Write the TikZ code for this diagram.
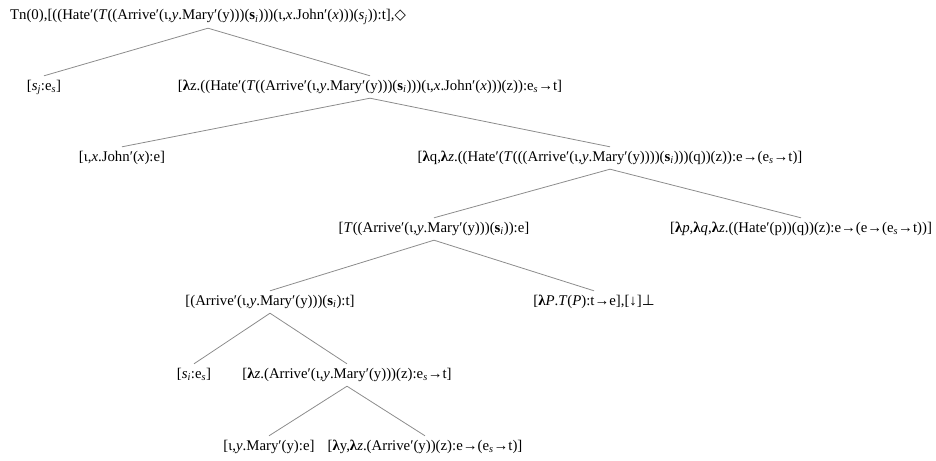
\documentclass[tikz,border=0pt]{standalone}
\usepackage{fontspec}
\setmainfont{Liberation Serif}
\newfontfamily\symbfont{DejaVu Sans}
\newcommand{\bl}{\textbf{λ}}
\newcommand{\es}{e\textsubscript{\textit{s}}}
\newcommand{\bsi}{\textbf{s}\textsubscript{\textit{i}}}
\newcommand{\ar}{→}
\newcommand{\dia}{{\symbfont ◇}}
\newcommand{\falsum}{{\symbfont ⊥}}
\tikzset{
  dnode/.style={inner xsep=1pt, inner ysep=5pt, text height=9pt, text depth=3pt, font=\fontsize{14.8}{16}\selectfont},
  edge/.style={draw=black!45, line width=0.8pt}
}
\begin{document}
\begin{tikzpicture}[x=1pt, y=-1pt]
 \useasboundingbox (0,0) rectangle (936,460);

 % level 0
 \node[dnode] (root) at (208,17) {Tn(0),[((Hate′(\textit{T}((Arrive′(ι,\textit{y}.Mary′(y)))(\bsi)))(ι,\textit{x}.John′(\textit{x})))(\textit{s}\textsubscript{\textit{j}})):t],\dia};

 % level 1
 \node[dnode] (sj) at (44,87) {[\textit{s}\textsubscript{\textit{j}}:\es]};
 \node[dnode] (lz1) at (370,87) {[\bl z.((Hate′(\textit{T}((Arrive′(ι,\textit{y}.Mary′(y)))(\bsi)))(ι,\textit{x}.John′(\textit{x})))(z)):\es\ar t]};

 % level 2
 \node[dnode] (john) at (122,158) {[ι,\textit{x}.John′(\textit{x}):e]};
 \node[dnode] (lq) at (610,158) {[\bl q,\bl\textit{z}.((Hate′(\textit{T}(((Arrive′(ι,\textit{y}.Mary′(y))))(\bsi)))(q))(z)):e\ar(\es\ar t)]};

 % level 3
 \node[dnode] (tarr) at (434,229) {[\textit{T}((Arrive′(ι,\textit{y}.Mary′(y)))(\bsi)):e]};
 \node[dnode] (lp) at (801,229) {[\bl\textit{p},\bl\textit{q},\bl\textit{z}.((Hate′(p))(q))(z):e\ar(e\ar(\es\ar t))]};

 % level 4
 \node[dnode] (arr) at (270,302) {[(Arrive′(ι,\textit{y}.Mary′(y)))(\bsi):t]};
 \node[dnode] (lP) at (594,302) {[\bl\textit{P}.\textit{T}(\textit{P}):t\ar e],[↓]\falsum};

 % level 5
 \node[dnode] (si) at (194,375) {[\textit{s}\textsubscript{\textit{i}}:\es]};
 \node[dnode] (lz2) at (347,375) {[\bl\textit{z}.(Arrive′(ι,\textit{y}.Mary′(y)))(z):\es\ar t]};

 % level 6
 \node[dnode] (mary) at (269,447) {[ι,\textit{y}.Mary′(y):e]};
 \node[dnode] (ly) at (425,447) {[\bl y,\bl\textit{z}.(Arrive′(y))(z):e\ar(\es\ar t)]};

 % lines
 \foreach \src/\dst in {root/sj, root/lz1, lz1/john, lz1/lq, lq/tarr, lq/lp,
   tarr/arr, tarr/lP, arr/si, arr/lz2, lz2/mary, lz2/ly}
   \path[edge] (\src.south) -- (\dst.north);

\end{tikzpicture}
\end{document}
